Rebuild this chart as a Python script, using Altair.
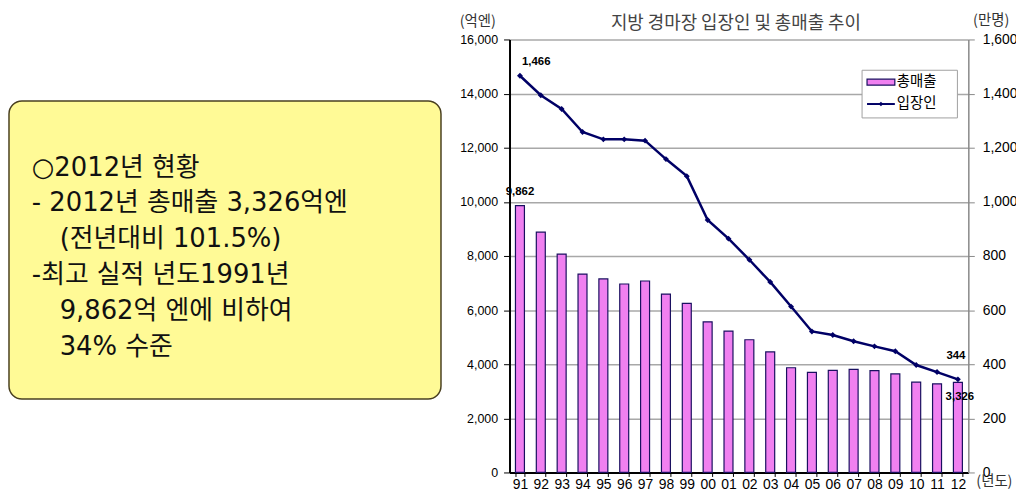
import altair as alt
import pandas as pd

years = ["91", "92", "93", "94", "95", "96", "97", "98", "99", "00", "01",
         "02", "03", "04", "05", "06", "07", "08", "09", "10", "11", "12"]
sales = [9862, 8880, 8070, 7330, 7150, 6965, 7075, 6590, 6250, 5565, 5225,
         4905, 4455, 3870, 3700, 3775, 3810, 3765, 3640, 3335, 3277, 3326]
visitors = [1466, 1394, 1343, 1258, 1231, 1231, 1226, 1158, 1095, 933, 864,
            786, 704, 613, 521, 508, 485, 466, 448, 397, 371, 344]

box_lines = ["○2012년 현황", "- 2012년 총매출 3,326억엔", "(전년대비 101.5%)",
             "-최고 실적 년도1991년", "9,862억 엔에 비하여", "34% 수준"]
box_indent = [False, False, True, False, True, True]

chart_title = "지방 경마장 입장인 및 총매출 추이"
left_unit = "(억엔)"
right_unit = "(만명)"
x_unit = "(년도)"
legend_labels = ["총매출", "입장인"]

KFONT = "Noto Sans CJK KR"
BOXFONT = "DejaVu Sans, Noto Sans CJK KR"
NFONT = "Liberation Sans"

df = pd.DataFrame({"year": years, "sales": sales, "visitors": visitors})
base = alt.Chart(df)

xenc = alt.X("year:N", sort=years,
             scale=alt.Scale(paddingInner=0.57, paddingOuter=0.285),
             axis=alt.Axis(title=None, labelAngle=0, labelFontSize=14, labelFont=NFONT,
                           labelColor="black", domainColor="black", domainWidth=2,
                           tickColor="black", tickBand="extent", tickSize=4,
                           labelPadding=1, grid=False))

yleft = alt.Y("sales:Q", scale=alt.Scale(domain=[0, 16000], nice=False),
              axis=alt.Axis(title=None, orient="left", values=list(range(0, 16001, 2000)),
                            format=",d", labelFontSize=12.5, labelFont=NFONT, labelColor="black",
                            domainColor="black", domainWidth=2, tickColor="black", tickSize=6,
                            labelPadding=6, grid=True, gridColor="#A8A8A8", gridWidth=1.5))

yright = alt.Y("visitors:Q", scale=alt.Scale(domain=[0, 1600], nice=False),
               axis=alt.Axis(title=None, orient="right", values=list(range(0, 1601, 200)),
                             format=",d", labelFontSize=14, labelFont=NFONT, labelColor="black",
                             domainColor="#888888", domainWidth=1.5, tickColor="#888888",
                             tickSize=6, labelPadding=8, grid=False))

bars = base.mark_bar(color="#F080F0", stroke="#1A1060", strokeWidth=1.2).encode(x=xenc, y=yleft)
bar_lbl_first = base.transform_filter(alt.datum.year == "91").mark_text(
    fontSize=11.5, fontWeight="bold", font=NFONT, dy=-14, color="black"
).encode(x=xenc, y=yleft, text=alt.Text("sales:Q", format=","))
bar_lbl_last = base.transform_filter(alt.datum.year == "12").mark_text(
    fontSize=11.5, fontWeight="bold", font=NFONT, dy=15, dx=2, color="black"
).encode(x=xenc, y=yleft, text=alt.Text("sales:Q", format=","))
left_layer = alt.layer(bars, bar_lbl_first, bar_lbl_last)

line = base.mark_line(color="#000066", strokeWidth=2.5).encode(x=xenc, y=yright)
pts = base.mark_point(shape="diamond", size=35, filled=True, color="#000066", opacity=1).encode(x=xenc, y=yright)
line_lbl_first = base.transform_filter(alt.datum.year == "91").mark_text(
    fontSize=11.5, fontWeight="bold", font=NFONT, dy=-14, dx=2, align="left", color="black"
).encode(x=xenc, y=yright, text=alt.Text("visitors:Q", format=","))
line_lbl_last = base.transform_filter(alt.datum.year == "12").mark_text(
    fontSize=11.5, fontWeight="bold", font=NFONT, dy=-24, dx=-2, color="black"
).encode(x=xenc, y=yright, text=alt.Text("visitors:Q", format=","))
right_layer = alt.layer(line, pts, line_lbl_first, line_lbl_last)

one = pd.DataFrame({"k": [0]})


def vtext(txt, x, y, size, color="black", font=KFONT, align="center", weight="normal"):
    return alt.Chart(one).mark_text(text=txt, fontSize=size, font=font, color=color,
                                    align=align, baseline="middle", fontWeight=weight).encode(
        x=alt.value(x), y=alt.value(y))


def vrect(x1, x2, y1, y2, fill, stroke, sw, radius=0):
    return alt.Chart(one).mark_rect(fill=fill, stroke=stroke, strokeWidth=sw,
                                    cornerRadius=radius).encode(
        x=alt.value(x1), x2=alt.value(x2), y=alt.value(y1), y2=alt.value(y2))


annotations = []
# yellow summary box
annotations.append(vrect(-504, -69, 62, 362, "#FFFA96", "#4A4020", 1.5, 13))
for i, (ln, ind) in enumerate(zip(box_lines, box_indent)):
    annotations.append(vtext(ln, -453 if ind else -481, 129 + i * 36.2, 26,
                             color="#111111", font=BOXFONT, align="left"))
# titles
annotations.append(vtext(chart_title, 228, -16, 18, color="#444444"))
annotations.append(vtext(left_unit, -32, -18, 14.5, color="#333333"))
annotations.append(vtext(right_unit, 485, -19, 14.5, color="#333333"))
annotations.append(vtext(x_unit, 470, 446, 14.5, color="#333333", align="left"))
# legend
annotations.append(vrect(355, 451, 31, 79, "white", "#A0A0A0", 1))
annotations.append(vrect(360, 388, 40, 46, "#F080F0", "#1A1060", 1.2))
annotations.append(vtext(legend_labels[0], 390, 43, 14.5, align="left"))
annotations.append(alt.Chart(one).mark_rule(color="#000066", strokeWidth=2).encode(
    x=alt.value(360), x2=alt.value(388), y=alt.value(65)))
annotations.append(alt.Chart(one).mark_point(shape="diamond", size=22, filled=True,
                                             color="#000066", opacity=1).encode(
    x=alt.value(374), y=alt.value(65)))
annotations.append(vtext(legend_labels[1], 390, 65, 14.5, align="left"))

chart = alt.layer(left_layer, right_layer, *annotations).resolve_scale(
    y="independent"
).properties(
    width=462, height=436,
    autosize=alt.AutoSizeParams(type="none"),
    padding={"left": 505, "top": 30, "right": 48, "bottom": 20},
    background="white",
).configure_view(stroke=None)

chart.save("out.html", embed_options={"renderer": "svg", "actions": False})
